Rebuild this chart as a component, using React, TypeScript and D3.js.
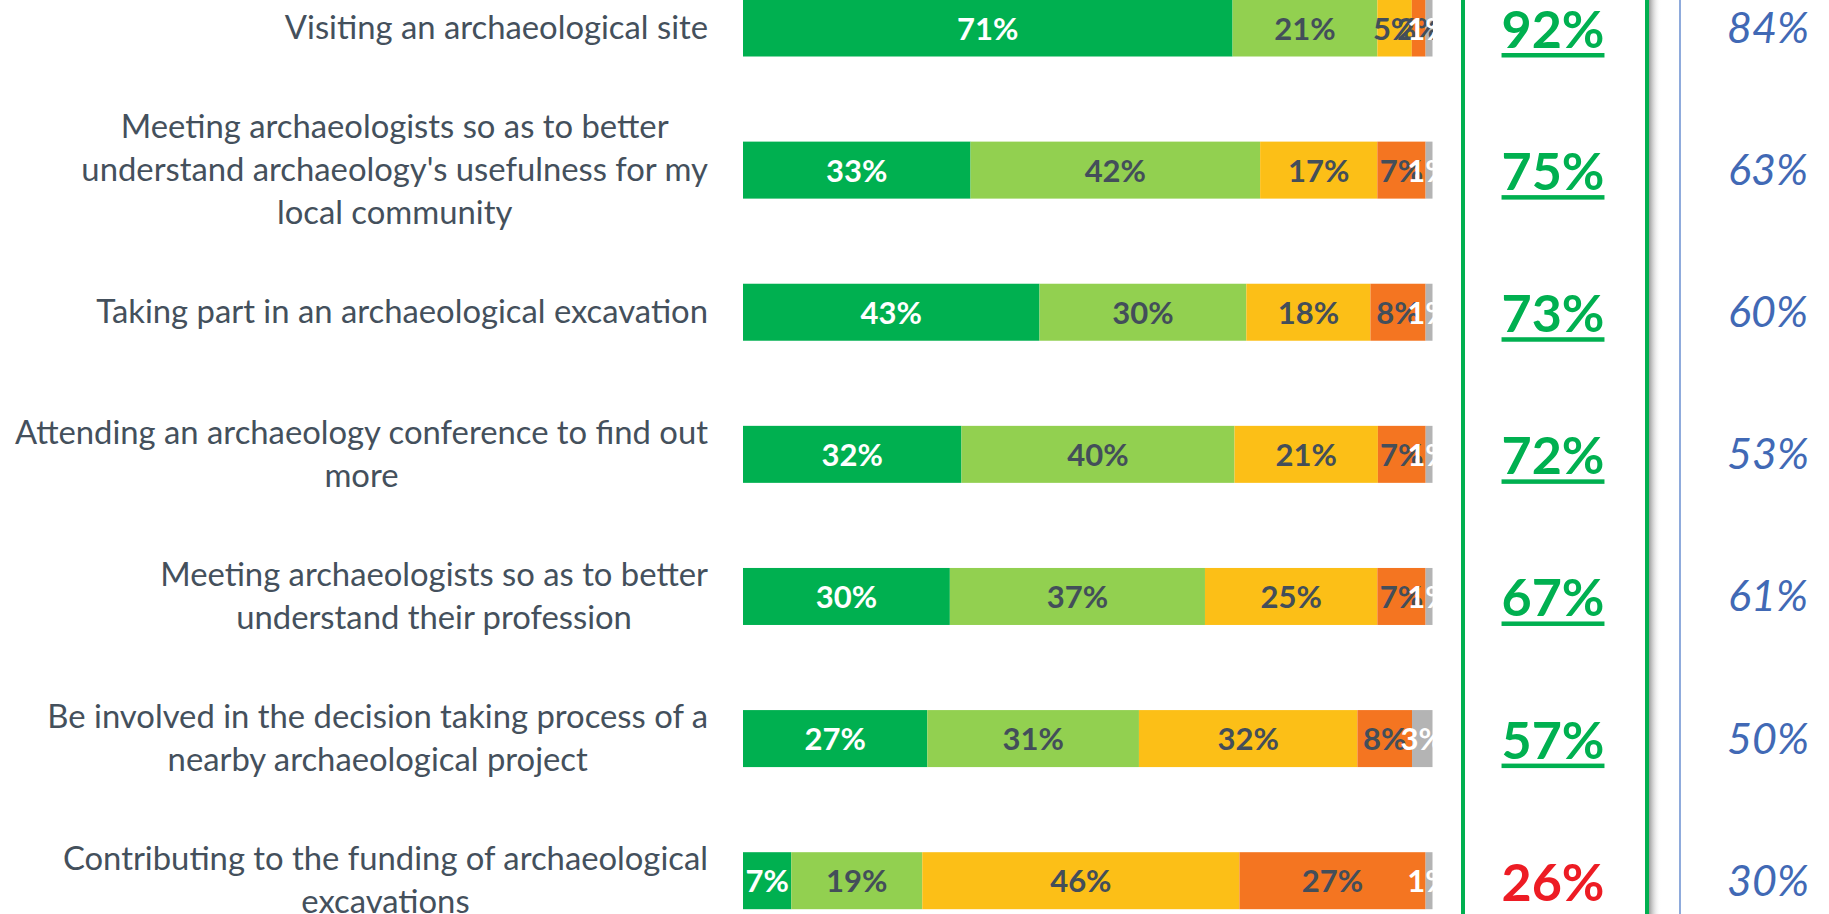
import React, { useEffect, useRef } from "react";
import * as d3 from "d3";

const categories = [
  "Visiting an archaeological site",
  "Meeting archaeologists so as to better\nunderstand archaeology's usefulness for my\nlocal community",
  "Taking part in an archaeological excavation",
  "Attending an archaeology conference to find out\nmore",
  "Meeting archaeologists so as to better\nunderstand their profession",
  "Be involved in the decision taking process of a\nnearby archaeological project",
  "Contributing to the funding of archaeological\nexcavations",
];
const veryInterested = [71, 33, 43, 32, 30, 27, 7];
const fairlyInterested = [21, 42, 30, 40, 37, 31, 19];
const notVeryInterested = [5, 17, 18, 21, 25, 32, 46];
const notAtAllInterested = [2, 7, 8, 7, 7, 8, 27];
const dontKnow = [1, 1, 1, 1, 1, 3, 1];
const totalInterested = [92, 75, 73, 72, 67, 57, 26];
const comparisonValues = [84, 63, 60, 53, 61, 50, 30];

const seriesColors = ["#00B050", "#92D050", "#FCBF17", "#F47521", "#B4B4B4"];
const labelColors = ["#FFFFFF", "#434E5A", "#434E5A", "#434E5A", "#FFFFFF"];

const W = 1829;
const H = 914;

export default function App() {
  const ref = useRef<SVGSVGElement | null>(null);

  useEffect(() => {
    const svg = d3.select(ref.current);
    svg.selectAll("*").remove();

    const series = [veryInterested, fairlyInterested, notVeryInterested, notAtAllInterested, dontKnow];
    const rows = categories.map((c, i) => {
      const vals = series.map((s) => s[i]);
      const sum = d3.sum(vals);
      let acc = 0;
      const segs = vals.map((v, k) => {
        const s = { x0: acc / sum, x1: (acc + v) / sum, v, k };
        acc += v;
        return s;
      });
      return { c, i, segs };
    });

    const x = d3.scaleLinear().domain([0, 1]).range([743, 1432.5]);
    const y = d3.scalePoint<string>().domain(categories).range([28, 880.7]);
    const barH = 57;
    const font = "Lato, 'Open Sans', sans-serif";

    const defs = svg.append("defs");
    defs
      .append("clipPath")
      .attr("id", "plotClip")
      .append("rect")
      .attr("x", x(0))
      .attr("y", 0)
      .attr("width", x(1) - x(0) + 0.5)
      .attr("height", H);
    const grad = defs.append("linearGradient").attr("id", "shadowGrad").attr("x1", 0).attr("x2", 1).attr("y1", 0).attr("y2", 0);
    grad.append("stop").attr("offset", 0).attr("stop-color", "#7a7a7a").attr("stop-opacity", 0.75);
    grad.append("stop").attr("offset", 1).attr("stop-color", "#ffffff").attr("stop-opacity", 0);

    // bars
    const rowG = svg
      .selectAll("g.row")
      .data(rows)
      .join("g")
      .attr("class", "row");
    rowG
      .selectAll("rect")
      .data((r) => r.segs.map((s) => ({ ...s, cy: y(r.c)! })))
      .join("rect")
      .attr("x", (s) => x(s.x0))
      .attr("width", (s) => x(s.x1) - x(s.x0))
      .attr("y", (s) => s.cy - barH / 2)
      .attr("height", barH)
      .attr("fill", (s) => seriesColors[s.k]);

    // data labels
    const lblG = svg.append("g").attr("clip-path", "url(#plotClip)");
    rows.forEach((r) => {
      const cy = y(r.c)!;
      r.segs.forEach((s) => {
        lblG
          .append("text")
          .attr("x", (x(s.x0) + x(s.x1)) / 2)
          .attr("y", cy + 11.5)
          .attr("text-anchor", "middle")
          .attr("font-family", font)
          .attr("font-weight", 700)
          .attr("font-size", 31)
          .attr("fill", labelColors[s.k])
          .text(s.v + "%");
      });
    });

    // category labels
    const lineH = 43;
    const rightEdge = 708;
    rows.forEach((r) => {
      const cy = y(r.c)!;
      const lines = r.c.split("\n");
      const g = svg.append("g");
      const texts = lines.map((ln, j) =>
        g
          .append("text")
          .attr("y", cy + (j - (lines.length - 1) / 2) * lineH + 11)
          .attr("text-anchor", "middle")
          .attr("font-family", font)
          .attr("font-size", 32.8)
          .attr("fill", "#44505C")
          .text(ln)
      );
      const maxW = d3.max(texts, (t) => (t.node() as SVGTextElement).getComputedTextLength()) || 0;
      texts.forEach((t) => t.attr("x", rightEdge - maxW / 2));
    });

    // green box
    const boxL = 1463;
    const boxR = 1647;
    svg.append("rect").attr("x", boxR + 2).attr("y", 0).attr("width", 12).attr("height", H).attr("fill", "url(#shadowGrad)");
    svg.append("line").attr("x1", boxL).attr("x2", boxL).attr("y1", 0).attr("y2", H).attr("stroke", "#00B050").attr("stroke-width", 4);
    svg.append("line").attr("x1", boxR).attr("x2", boxR).attr("y1", 0).attr("y2", H).attr("stroke", "#00B050").attr("stroke-width", 4);
    // blue separator
    svg.append("line").attr("x1", 1680).attr("x2", 1680).attr("y1", 0).attr("y2", H).attr("stroke", "#4472C4").attr("stroke-width", 1.2);

    // total interested
    const cxBox = (boxL + boxR) / 2 - 2;
    rows.forEach((r) => {
      const cy = y(r.c)!;
      const v = totalInterested[r.i];
      const good = v >= 50;
      const col = good ? "#00B050" : "#ED1C24";
      const t = svg
        .append("text")
        .attr("x", cxBox)
        .attr("y", cy + 20)
        .attr("text-anchor", "middle")
        .attr("font-family", font)
        .attr("font-weight", 700)
        .attr("font-size", 52)
        .attr("fill", col)
        .text(v + "%");
      if (good) {
        const w = (t.node() as SVGTextElement).getComputedTextLength();
        svg
          .append("rect")
          .attr("x", cxBox - w / 2)
          .attr("y", cy + 25)
          .attr("width", w)
          .attr("height", 4.5)
          .attr("fill", col);
      }
    });

    // comparison values
    rows.forEach((r) => {
      const cy = y(r.c)!;
      svg
        .append("text")
        .attr("x", 1768)
        .attr("y", cy + 15)
        .attr("text-anchor", "middle")
        .attr("font-family", font)
        .attr("font-style", "italic")
        .attr("font-size", 43)
        .attr("fill", "#4169B5")
        .text(comparisonValues[r.i] + "%");
    });
  }, []);

  return (
    <svg
      ref={ref}
      width={W}
      height={H}
      style={{ position: "absolute", left: 0, top: 0, background: "#fff" }}
    />
  );
}
